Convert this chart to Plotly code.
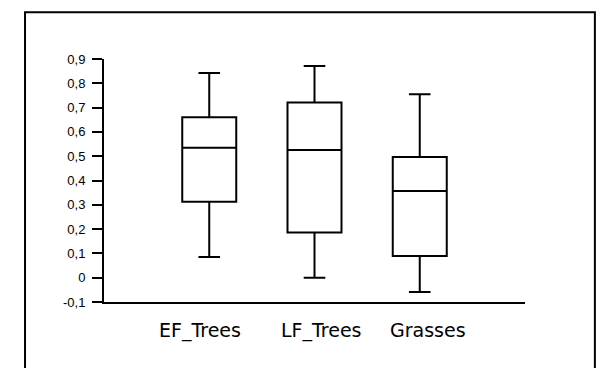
import plotly.graph_objects as go

# Box-plot summary per vegetation group
groups = ["EF_Trees", "LF_Trees", "Grasses"]
lower_whisker = [0.085, 0.0, -0.059]
q1 = [0.313, 0.186, 0.089]
median = [0.535, 0.526, 0.357]
q3 = [0.660, 0.721, 0.497]
upper_whisker = [0.842, 0.871, 0.755]

# y-axis ticks, labelled with a decimal comma
y_ticks = [-0.1, 0, 0.1, 0.2, 0.3, 0.4, 0.5, 0.6, 0.7, 0.8, 0.9]
y_tick_labels = ["-0,1", "0", "0,1", "0,2", "0,3", "0,4",
                 "0,5", "0,6", "0,7", "0,8", "0,9"]

# small horizontal nudges of the group labels under the boxes
label_shift = [-9, 7, 8]

fig = go.Figure()
fig.add_trace(go.Box(
    x=groups,
    q1=q1,
    median=median,
    q3=q3,
    lowerfence=lower_whisker,
    upperfence=upper_whisker,
    boxpoints=False,
    width=0.513,
    whiskerwidth=0.4,
    fillcolor="white",
    line=dict(color="black", width=2),
    showlegend=False,
))

for g, dx in zip(groups, label_shift):
    fig.add_annotation(
        x=g, y=-0.1, xref="x", yref="y",
        text=g, showarrow=False,
        xanchor="center", yanchor="middle",
        xshift=dx, yshift=-28,
        font=dict(family="DejaVu Sans", size=19, color="black"),
    )

# frame around the whole chart
fig.add_shape(
    type="rect", xref="paper", yref="paper",
    x0=-0.1876, x1=1.166, y0=-0.30, y1=1.192,
    line=dict(color="black", width=2),
    fillcolor="rgba(0,0,0,0)",
    layer="below",
)

fig.update_layout(
    width=601, height=368,
    margin=dict(l=104, r=76, t=59, b=66),
    paper_bgcolor="white",
    plot_bgcolor="white",
    font=dict(family="Liberation Sans, Arial", size=13, color="black"),
    xaxis=dict(
        type="category",
        range=[-1, 3],
        showline=True, linecolor="black", linewidth=2,
        showgrid=False, zeroline=False,
        showticklabels=False, ticks="",
        fixedrange=True,
    ),
    yaxis=dict(
        range=[-0.1, 0.9],
        tickmode="array",
        tickvals=y_ticks,
        ticktext=y_tick_labels,
        showline=True, linecolor="black", linewidth=2,
        ticks="outside", ticklen=10, tickwidth=2, tickcolor="black",
        ticklabelstandoff=4,
        showgrid=False, zeroline=False,
        tickfont=dict(family="Liberation Sans, Arial", size=13, color="black"),
        fixedrange=True,
    ),
)

fig.write_html("out.html")
